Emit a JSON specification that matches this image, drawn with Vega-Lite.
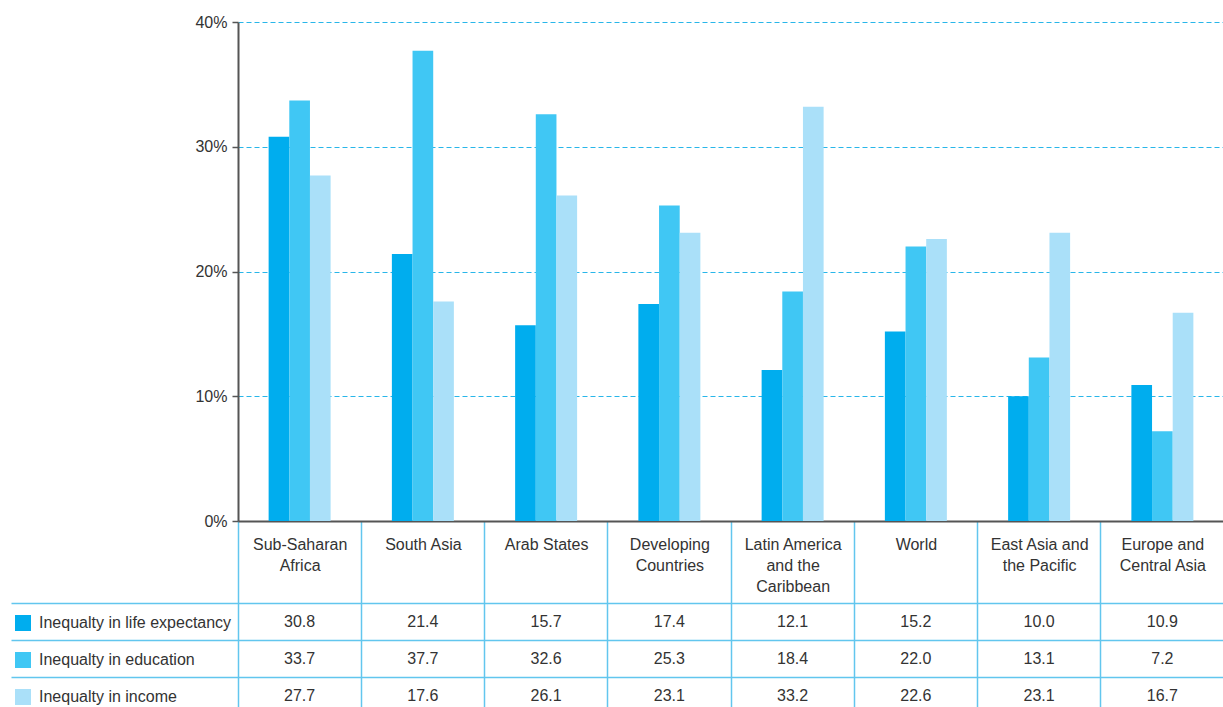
{
  "$schema": "https://vega.github.io/schema/vega-lite/v6.json",
  "padding": {"left": 10, "top": 14, "right": 0, "bottom": 0},
  "autosize": {"type": "pad"},
  "spacing": 82,
  "bounds": "flush",
  "config": {
    "font": "Liberation Sans",
    "view": {"stroke": null},
    "axis": {"labelFontSize": 16, "labelColor": "#333333", "labelFont": "Liberation Sans"}
  },
  "data": {
    "values": [
      {"region": "Sub-Saharan Africa", "series": "Inequalty in life expectancy", "value": 30.8},
      {"region": "Sub-Saharan Africa", "series": "Inequalty in education", "value": 33.7},
      {"region": "Sub-Saharan Africa", "series": "Inequalty in income", "value": 27.7},
      {"region": "South Asia", "series": "Inequalty in life expectancy", "value": 21.4},
      {"region": "South Asia", "series": "Inequalty in education", "value": 37.7},
      {"region": "South Asia", "series": "Inequalty in income", "value": 17.6},
      {"region": "Arab States", "series": "Inequalty in life expectancy", "value": 15.7},
      {"region": "Arab States", "series": "Inequalty in education", "value": 32.6},
      {"region": "Arab States", "series": "Inequalty in income", "value": 26.1},
      {"region": "Developing Countries", "series": "Inequalty in life expectancy", "value": 17.4},
      {"region": "Developing Countries", "series": "Inequalty in education", "value": 25.3},
      {"region": "Developing Countries", "series": "Inequalty in income", "value": 23.1},
      {"region": "Latin America and the Caribbean", "series": "Inequalty in life expectancy", "value": 12.1},
      {"region": "Latin America and the Caribbean", "series": "Inequalty in education", "value": 18.4},
      {"region": "Latin America and the Caribbean", "series": "Inequalty in income", "value": 33.2},
      {"region": "World", "series": "Inequalty in life expectancy", "value": 15.2},
      {"region": "World", "series": "Inequalty in education", "value": 22.0},
      {"region": "World", "series": "Inequalty in income", "value": 22.6},
      {"region": "East Asia and the Pacific", "series": "Inequalty in life expectancy", "value": 10.0},
      {"region": "East Asia and the Pacific", "series": "Inequalty in education", "value": 13.1},
      {"region": "East Asia and the Pacific", "series": "Inequalty in income", "value": 23.1},
      {"region": "Europe and Central Asia", "series": "Inequalty in life expectancy", "value": 10.9},
      {"region": "Europe and Central Asia", "series": "Inequalty in education", "value": 7.2},
      {"region": "Europe and Central Asia", "series": "Inequalty in income", "value": 16.7}
    ]
  },
  "vconcat": [
    {
      "width": 986,
      "height": 499,
      "mark": {"type": "bar"},
      "encoding": {
        "x": {
          "field": "region", "type": "nominal", "sort": null,
          "scale": {"paddingInner": 0.497, "paddingOuter": 0.2485},
          "axis": {"title": null, "labels": false, "bandPosition": -0.494, "ticks": true, "tickSize": 186,
                   "tickColor": "#62c6ee", "tickWidth": 1.5, "domainColor": "#555555", "domainWidth": 2, "grid": false}
        },
        "xOffset": {
          "field": "series", "type": "nominal",
          "scale": {"domain": ["Inequalty in life expectancy", "Inequalty in education", "Inequalty in income"], "paddingInner": 0, "paddingOuter": 0}
        },
        "y": {
          "field": "value", "type": "quantitative",
          "scale": {"domain": [0, 40]},
          "axis": {"title": null, "values": [0, 10, 20, 30, 40], "labelExpr": "datum.value + '%'",
                   "grid": true, "gridDash": [5, 3], "gridColor": "#29b6e9", "gridWidth": 1,
                   "domainColor": "#555555", "domainWidth": 2, "tickColor": "#555555", "tickSize": 6, "tickWidth": 1.5,
                   "labelPadding": 5, "labelFlush": false}
        },
        "color": {
          "field": "series", "type": "nominal",
          "scale": {"domain": ["Inequalty in life expectancy", "Inequalty in education", "Inequalty in income"],
                    "range": ["#00adee", "#40c7f4", "#aae0f9"]},
          "legend": {"orient": "none", "legendX": -223, "legendY": 593, "title": null, "symbolType": "square",
                     "symbolSize": 256, "symbolStrokeWidth": 0, "labelFontSize": 16, "labelColor": "#333333",
                     "labelOffset": 8, "rowPadding": 21, "labelLimit": 300, "padding": 0}
        }
      }
    },
    {
      "width": 986,
      "height": 104,
      "mark": {"type": "text", "fontSize": 16, "color": "#333333"},
      "encoding": {
        "x": {
          "field": "region", "type": "nominal", "sort": null,
          "scale": {"paddingInner": 0, "paddingOuter": 0},
          "axis": {"orient": "top", "title": null, "ticks": false, "tickSize": 0, "domain": false, "grid": false,
                   "labelBaseline": "top", "labelPadding": 66.5, "labelLineHeight": 21, "labelOverlap": false, "labelAngle": 0,
                   "labelExpr": "datum.value == 'Sub-Saharan Africa' ? ['Sub-Saharan', 'Africa'] : datum.value == 'Developing Countries' ? ['Developing', 'Countries'] : datum.value == 'Latin America and the Caribbean' ? ['Latin America', 'and the', 'Caribbean'] : datum.value == 'East Asia and the Pacific' ? ['East Asia and', 'the Pacific'] : datum.value == 'Europe and Central Asia' ? ['Europe and', 'Central Asia'] : datum.label"}
        },
        "y": {
          "field": "series", "type": "nominal", "bandPosition": 0.5,
          "scale": {"type": "band", "domain": ["Inequalty in life expectancy", "Inequalty in education", "Inequalty in income"],
                    "range": [0, 111], "paddingInner": 0, "paddingOuter": 0},
          "axis": {"title": null, "labels": false, "domain": false, "bandPosition": 0, "ticks": true, "tickSize": 227,
                   "tickColor": "#62c6ee", "tickWidth": 1.5, "grid": true, "gridColor": "#62c6ee", "gridWidth": 1.5}
        },
        "text": {"field": "value", "type": "quantitative", "format": ".1f"}
      }
    }
  ]
}
